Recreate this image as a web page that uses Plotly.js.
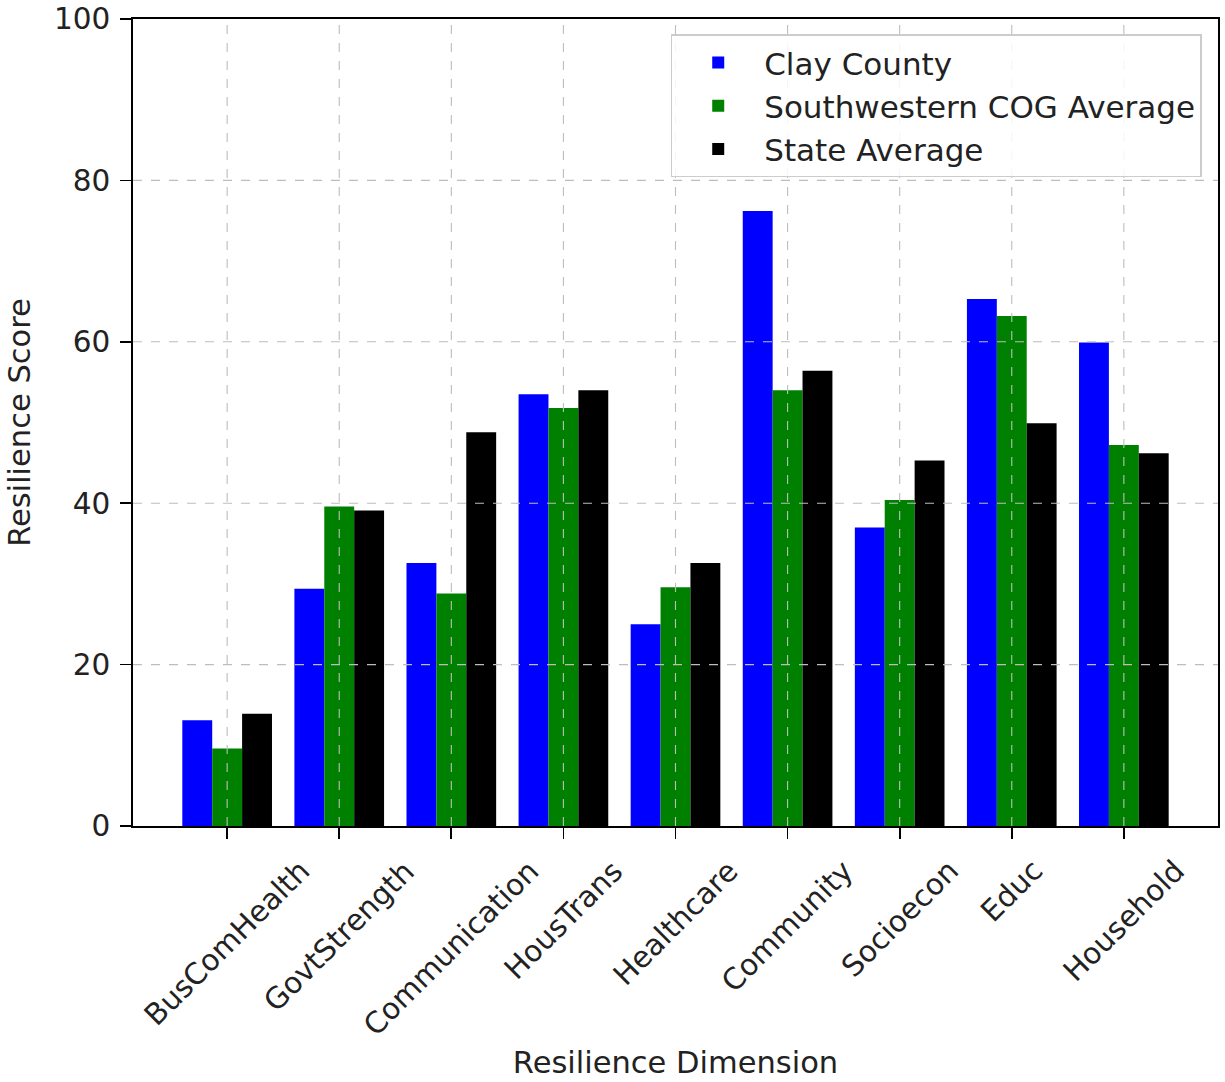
<!DOCTYPE html>
<html>
<head>
<meta charset="utf-8">
<script src="https://cdn.plot.ly/plotly-3.0.1.min.js"></script>
<style>html,body{margin:0;padding:0;background:#fff;}#chart{width:1225px;height:1082px;}</style>
</head>
<body>
<div id="chart"></div>
<script>
const categories = ["BusComHealth","GovtStrength","Communication","HousTrans","Healthcare","Community","Socioecon","Educ","Household"];
const clayCounty = [13.1, 29.4, 32.6, 53.5, 25.0, 76.2, 37.0, 65.3, 59.9];
const cogAverage = [9.6, 39.6, 28.8, 51.8, 29.6, 54.0, 40.4, 63.2, 47.2];
const stateAverage = [13.9, 39.1, 48.8, 54.0, 32.6, 56.4, 45.3, 49.9, 46.2];
const seriesNames = ["Clay County", "Southwestern COG Average", "State Average"];
const yTickVals = [0, 20, 40, 60, 80, 100];

const FONT = "DejaVu Sans, sans-serif";
const colors = ["#0000ff", "#008000", "#000000"];
const series = [clayCounty, cogAverage, stateAverage];

const traces = series.map((vals, i) => ({
  type: "bar",
  name: seriesNames[i],
  x: categories,
  y: vals,
  marker: {color: colors[i], line: {width: 0}},
  hoverinfo: "x+y+name"
}));

const gridStyle = {color: "#bdbdbd", width: 1.1, dash: "dash"};
const shapes = [];
yTickVals.slice(1, -1).forEach(v => shapes.push({
  type: "line", layer: "above", xref: "paper", yref: "y",
  x0: 0, x1: 1, y0: v, y1: v, line: gridStyle
}));
categories.forEach(c => shapes.push({
  type: "line", layer: "above", xref: "x", yref: "paper",
  x0: c, x1: c, y0: 0, y1: 1, line: gridStyle
}));

const annotations = categories.map(c => ({
  text: c, x: c, xref: "x", y: 0, yref: "paper",
  xanchor: "center", yanchor: "top", yshift: -25,
  textangle: -45, showarrow: false,
  font: {family: FONT, size: 29.5, color: "#222"}
}));

const layout = {
  width: 1225, height: 1082,
  margin: {l: 133, r: 7, t: 19, b: 256},
  paper_bgcolor: "#fff", plot_bgcolor: "#fff",
  font: {family: FONT, size: 29, color: "#222"},
  barmode: "group", bargap: 0.2, bargroupgap: 0,
  showlegend: true,
  legend: {
    x: 0.985, xanchor: "right", y: 0.981, yanchor: "top",
    bgcolor: "rgba(255,255,255,0.85)", bordercolor: "#cccccc", borderwidth: 1.5,
    font: {family: FONT, size: 31, color: "#222"},
    itemwidth: 82, traceorder: "normal"
  },
  xaxis: {
    type: "category", range: [-0.84, 8.84],
    showgrid: false, zeroline: false,
    showline: true, mirror: true, linecolor: "#000", linewidth: 1.8,
    ticks: "outside", ticklen: 11, tickwidth: 1.8, tickcolor: "#000",
    showticklabels: false,
    title: {text: "Resilience Dimension", font: {family: FONT, size: 30.5, color: "#222"}, standoff: 214}
  },
  yaxis: {
    range: [0, 100], tickvals: yTickVals, ticktext: yTickVals.map(String),
    showgrid: false, zeroline: false,
    showline: true, mirror: true, linecolor: "#000", linewidth: 1.8,
    ticks: "outside", ticklen: 11, tickwidth: 1.8, tickcolor: "#000",
    ticklabelstandoff: 4,
    tickfont: {family: FONT, size: 29.5, color: "#222"},
    title: {text: "Resilience Score", font: {family: FONT, size: 30.5, color: "#222"}, standoff: 14}
  },
  shapes: shapes,
  annotations: annotations
};

Plotly.newPlot("chart", traces, layout, {staticPlot: true, displayModeBar: false});
</script>
</body>
</html>
